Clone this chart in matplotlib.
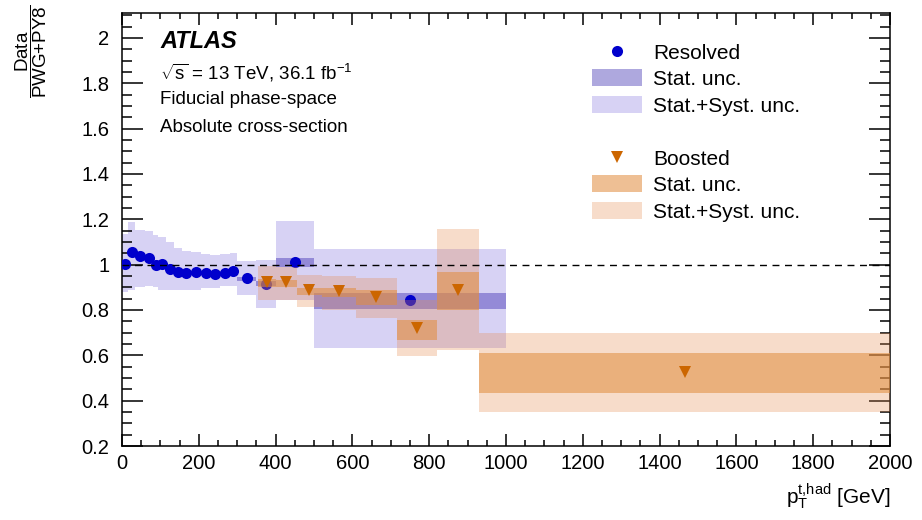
import numpy as np
import matplotlib
matplotlib.use("Agg")
import matplotlib.pyplot as plt
from matplotlib.lines import Line2D
from matplotlib.patches import Patch
from matplotlib.ticker import MultipleLocator, FuncFormatter

# resolved topology, ratio data / PWG+PY8
res_edges = [0, 15, 35, 60, 80, 95, 115, 135, 155, 180, 205, 230, 255, 280, 300, 350, 400, 500, 1000]
res_val = [1.003, 1.055, 1.038, 1.029, 0.998, 1.005, 0.982, 0.968, 0.963, 0.966, 0.962, 0.957, 0.964, 0.974, 0.940, 0.916, 1.012, 0.845]
res_stat_lo = [0.993, 1.049, 1.033, 1.024, 0.993, 1.000, 0.977, 0.963, 0.958, 0.961, 0.957, 0.951, 0.958, 0.967, 0.930, 0.905, 0.988, 0.805]
res_stat_hi = [1.013, 1.061, 1.043, 1.034, 1.003, 1.010, 0.987, 0.973, 0.968, 0.971, 0.967, 0.963, 0.970, 0.981, 0.947, 0.928, 1.030, 0.875]
res_syst_lo = [0.878, 0.886, 0.900, 0.905, 0.900, 0.890, 0.886, 0.886, 0.890, 0.890, 0.897, 0.897, 0.905, 0.905, 0.864, 0.810, 0.845, 0.634]
res_syst_hi = [1.135, 1.186, 1.152, 1.147, 1.130, 1.120, 1.098, 1.072, 1.062, 1.055, 1.047, 1.044, 1.047, 1.050, 1.018, 1.020, 1.193, 1.069]

# boosted topology
boo_edges = [355, 400, 455, 520, 610, 715, 820, 930, 2000]
boo_val = [0.922, 0.925, 0.886, 0.883, 0.859, 0.720, 0.889, 0.525]
boo_stat_lo = [0.903, 0.903, 0.864, 0.856, 0.824, 0.666, 0.800, 0.432]
boo_stat_hi = [0.935, 0.933, 0.896, 0.898, 0.886, 0.758, 0.966, 0.610]
boo_syst_lo = [0.842, 0.842, 0.815, 0.798, 0.766, 0.597, 0.622, 0.350]
boo_syst_hi = [0.996, 0.988, 0.956, 0.952, 0.942, 0.842, 1.157, 0.700]

res_color = "#0000cc"
res_stat_col = (20/255, 0, 160/255, 0.34)
res_syst_col = (110/255, 90/255, 215/255, 0.27)
boo_color = "#cc6600"
boo_stat_col = (225/255, 140/255, 60/255, 0.55)
boo_syst_col = (230/255, 140/255, 80/255, 0.30)

plt.rcParams["font.family"] = "Liberation Sans"
plt.rcParams["mathtext.fontset"] = "custom"
plt.rcParams["mathtext.rm"] = "Liberation Sans"
plt.rcParams["mathtext.it"] = "Liberation Sans:italic"
plt.rcParams["mathtext.bf"] = "Liberation Sans:bold"

fig = plt.figure(figsize=(9.22, 5.2), dpi=100)
ax = fig.add_axes([122/922, 1 - 446/520, 768/922, 433/520])


def boxes(edges, lo, hi, color, z):
    e = np.asarray(edges, float)
    lo = np.asarray(lo)
    hi = np.asarray(hi)
    ax.bar(e[:-1], hi - lo, width=np.diff(e), bottom=lo, align="edge",
           color=color, linewidth=0, zorder=z)


def centers(edges):
    e = np.asarray(edges, float)
    return 0.5 * (e[1:] + e[:-1])


boxes(res_edges, res_syst_lo, res_syst_hi, res_syst_col, 1)
boxes(res_edges, res_stat_lo, res_stat_hi, res_stat_col, 2)
ax.plot(centers(res_edges), res_val, "o", color=res_color, ms=8, mew=0, zorder=3)
boxes(boo_edges, boo_syst_lo, boo_syst_hi, boo_syst_col, 4)
boxes(boo_edges, boo_stat_lo, boo_stat_hi, boo_stat_col, 5)
ax.axhline(1, color="black", lw=1, ls=(0, (5, 4)), zorder=6)
ax.plot(centers(boo_edges), boo_val, "v", color=boo_color, ms=9, mew=0, zorder=7)

ax.set_xlim(0, 2000)
ax.set_ylim(0.2, 2.11)
ax.xaxis.set_major_locator(MultipleLocator(200))
ax.xaxis.set_minor_locator(MultipleLocator(50))
ax.yaxis.set_major_locator(MultipleLocator(0.2))
ax.yaxis.set_minor_locator(MultipleLocator(0.05))
ax.yaxis.set_major_formatter(FuncFormatter(lambda v, p: "%g" % round(v, 2)))

for s in ax.spines.values():
    s.set_linewidth(1.1)
ax.tick_params(which="both", direction="in", top=True, right=True, width=1.1)
ax.tick_params(axis="y", which="major", length=15, pad=9, labelsize=14.5)
ax.tick_params(axis="y", which="minor", length=7.5)
ax.tick_params(axis="x", which="major", length=8.5, pad=6, labelsize=14.5)
ax.tick_params(axis="x", which="minor", length=4.3)

ax.set_xlabel(r"$\mathrm{p}_{\mathrm{T}}^{\mathrm{t{,}had}}$ [GeV]", fontsize=15, ha="right")
ax.xaxis.set_label_coords(1.0, -0.082)
ax.set_ylabel(r"$\dfrac{\mathrm{Data}}{\mathrm{PWG{+}PY8}}$", fontsize=13.5)
ax.yaxis.set_label_coords(-0.095, 0.912)

ax.text(0.0495, 0.935, "ATLAS", transform=ax.transAxes, fontsize=17,
        fontweight="bold", fontstyle="italic", va="center")
ax.text(0.0495, 0.861, r"$\sqrt{\mathrm{s}}$ = 13 TeV, 36.1 fb$^{-1}$", transform=ax.transAxes,
        fontsize=13.5, va="center")
ax.text(0.0495, 0.801, "Fiducial phase-space", transform=ax.transAxes, fontsize=13.5, va="center")
ax.text(0.0495, 0.736, "Absolute cross-section", transform=ax.transAxes, fontsize=13.5, va="center")

handles = [
    Line2D([], [], marker="o", color=res_color, ls="none", ms=8, mew=0),
    Patch(facecolor=res_stat_col, linewidth=0),
    Patch(facecolor=res_syst_col, linewidth=0),
    Line2D([], [], ls="none"),
    Line2D([], [], marker="v", color=boo_color, ls="none", ms=9, mew=0),
    Patch(facecolor=boo_stat_col, linewidth=0),
    Patch(facecolor=boo_syst_col, linewidth=0),
]
labels = ["Resolved", "Stat. unc.", "Stat.+Syst. unc.", " ",
          "Boosted", "Stat. unc.", "Stat.+Syst. unc."]
ax.legend(handles, labels, loc="upper left", bbox_to_anchor=(0.6116, 0.931),
          frameon=False, fontsize=15, borderpad=0, borderaxespad=0,
          labelspacing=0.33, handlelength=2.4, handleheight=0.87, handletextpad=0.53)

fig.savefig("out.png", dpi=100)
